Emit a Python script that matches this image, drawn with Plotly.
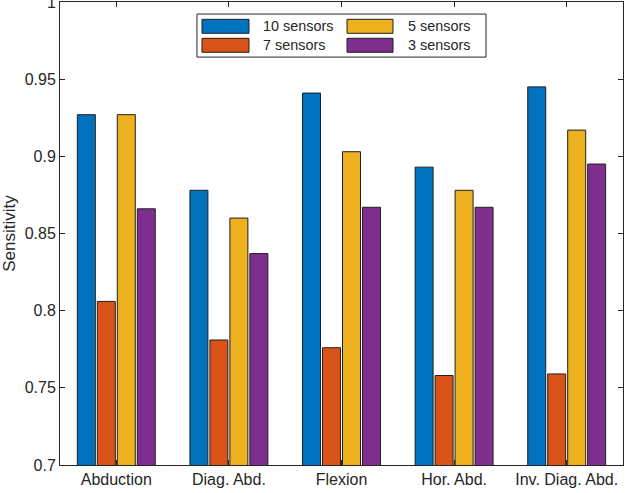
import plotly.graph_objects as go

categories = ["Abduction", "Diag. Abd.", "Flexion", "Hor. Abd.", "Inv. Diag. Abd."]
series_names = ["10 sensors", "7 sensors", "5 sensors", "3 sensors"]
sens_10 = [0.927, 0.878, 0.941, 0.893, 0.945]
sens_7 = [0.806, 0.781, 0.776, 0.758, 0.759]
sens_5 = [0.927, 0.860, 0.903, 0.878, 0.917]
sens_3 = [0.866, 0.837, 0.867, 0.867, 0.895]
series_values = [sens_10, sens_7, sens_5, sens_3]
colors = ["#0072BD", "#D95319", "#EDB120", "#7E2F8E"]
y_tick_vals = [0.7, 0.75, 0.8, 0.85, 0.9, 0.95, 1.0]
y_tick_text = ["0.7", "0.75", "0.8", "0.85", "0.9", "0.95", "1"]

FONT = "Liberation Sans, Arial, sans-serif"
INK = "#262626"

fig = go.Figure()
for name, vals, col in zip(series_names, series_values, colors):
    fig.add_trace(go.Bar(
        x=categories, y=vals, name=name,
        marker=dict(color=col, line=dict(color="#202020", width=1)),
        showlegend=False,
    ))

# custom 2x2 legend (MATLAB-style large swatches)
legend_cols = [(0.2522, 0.3357, 0.357), (0.5098, 0.5915, 0.6146)]
legend_rows = [(0.9626, 0.9324), (0.9216, 0.8914)]
order = [(0, 0), (1, 0), (0, 1), (1, 1)]  # (row, col) for each series
shapes = [dict(type="rect", xref="paper", yref="paper",
               x0=0.2433, x1=0.7567, y0=0.881, y1=0.974,
               line=dict(color=INK, width=1), fillcolor="white", layer="above")]
annotations = []
for (r, c), name, col in zip(order, series_names, colors):
    sx0, sx1, tx = legend_cols[c]
    sy1, sy0 = legend_rows[r]
    shapes.append(dict(type="rect", xref="paper", yref="paper",
                       x0=sx0, x1=sx1, y0=sy0, y1=sy1,
                       line=dict(color="#202020", width=1), fillcolor=col, layer="above"))
    annotations.append(dict(xref="paper", yref="paper", x=tx, y=(sy0 + sy1) / 2,
                            text=name, showarrow=False, xanchor="left", yanchor="middle",
                            font=dict(family=FONT, size=14.4, color=INK)))

fig.update_layout(
    width=625, height=493,
    margin=dict(l=60, r=2, t=2, b=28),
    paper_bgcolor="white", plot_bgcolor="white",
    barmode="group", bargap=0.29, bargroupgap=0.1,
    font=dict(family=FONT, size=16, color=INK),
    shapes=shapes, annotations=annotations,
    showlegend=False,
)
fig.update_xaxes(
    type="category", range=[-0.5, 4.5],
    showline=True, linecolor=INK, linewidth=1, mirror="ticks",
    ticks="inside", ticklen=5, tickcolor=INK, tickwidth=1,
    showgrid=False, zeroline=False, automargin=False,
    tickfont=dict(family=FONT, size=16, color=INK),
)
fig.update_yaxes(
    range=[0.7, 1.0], tickvals=y_tick_vals, ticktext=y_tick_text,
    ticklabeloverflow="allow",
    showline=True, linecolor=INK, linewidth=1, mirror="ticks",
    ticks="inside", ticklen=5, tickcolor=INK, tickwidth=1,
    showgrid=False, zeroline=False, automargin=False,
    title=dict(text="Sensitivity", font=dict(family=FONT, size=17, color=INK), standoff=10),
    tickfont=dict(family=FONT, size=16, color=INK),
)

fig.write_html(
    "out.html",
    config={"displayModeBar": False},
    post_script="document.body.style.margin='0';document.body.style.padding='0';",
)
